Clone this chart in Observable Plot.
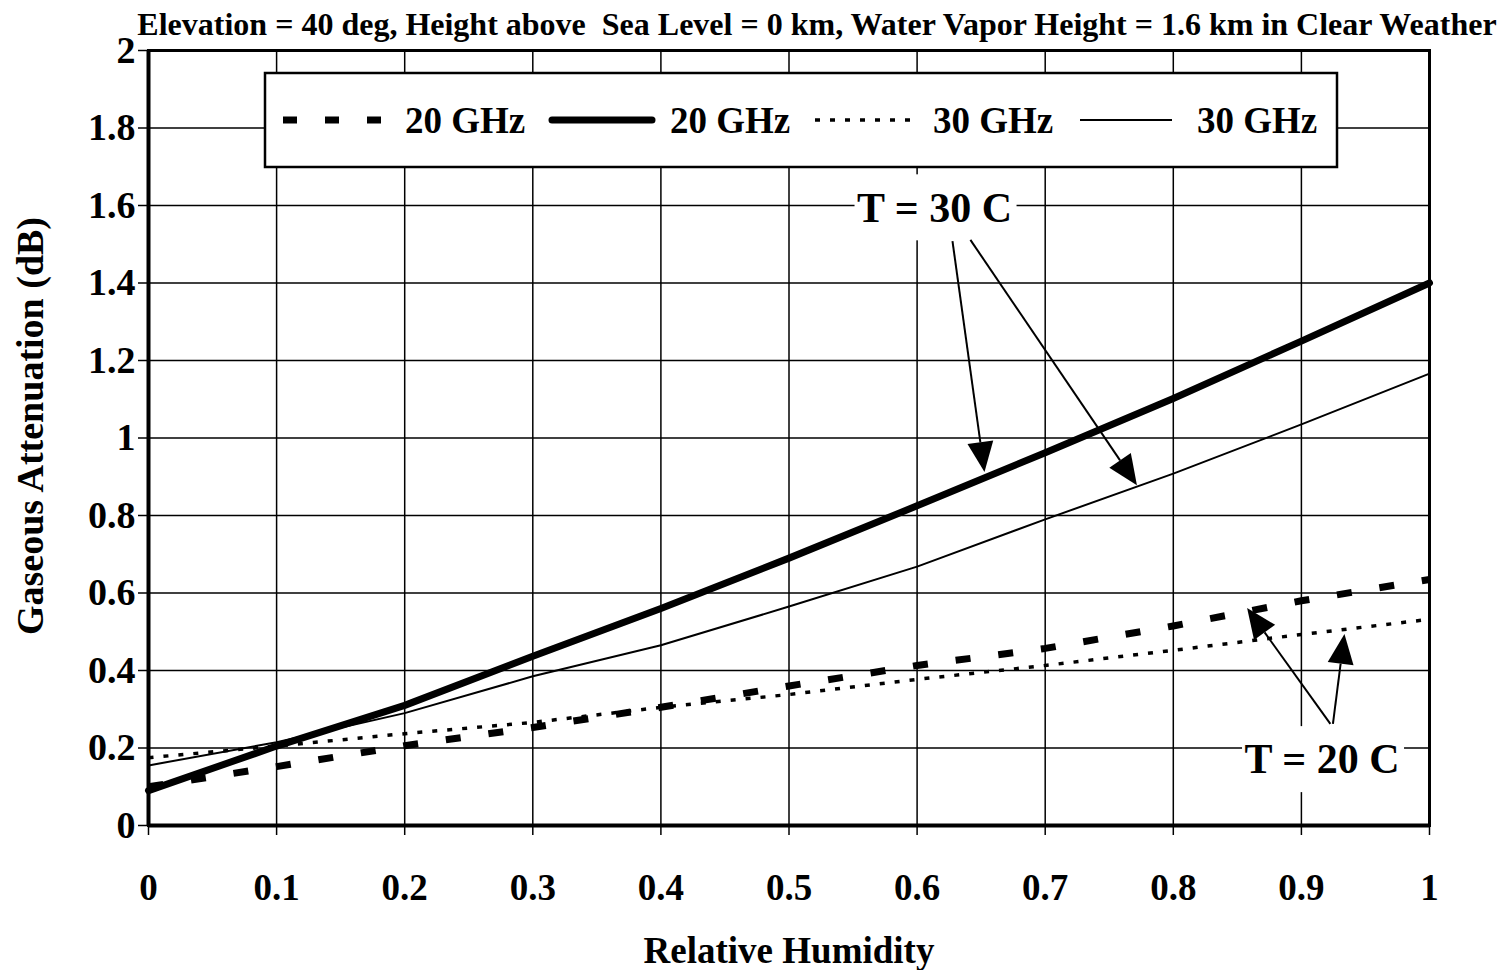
<!DOCTYPE html>
<html><head><meta charset="utf-8">
<script src="https://cdn.jsdelivr.net/npm/d3@7"></script>
<script src="https://cdn.jsdelivr.net/npm/@observablehq/plot@0.6"></script>
<style>
body{margin:0;background:#fff}
#chart{width:1511px;height:970px}
</style>
</head><body><div id="chart"></div>
<script>
// ---------- data ----------
const humidity = [0, 0.1, 0.2, 0.3, 0.4, 0.5, 0.6, 0.7, 0.8, 0.9, 1.0];
const att20GHz_T20 = [0.100, 0.152, 0.206, 0.253, 0.305, 0.360, 0.413, 0.457, 0.515, 0.580, 0.635];
const att20GHz_T30 = [0.090, 0.205, 0.310, 0.437, 0.560, 0.690, 0.825, 0.962, 1.102, 1.250, 1.400];
const att30GHz_T20 = [0.175, 0.205, 0.237, 0.266, 0.305, 0.338, 0.377, 0.413, 0.452, 0.493, 0.532];
const att30GHz_T30 = [0.155, 0.215, 0.290, 0.385, 0.465, 0.565, 0.668, 0.790, 0.908, 1.035, 1.166];
const seriesLabels = ["20 GHz", "20 GHz", "30 GHz", "30 GHz"];
const xTicks = [0, 0.1, 0.2, 0.3, 0.4, 0.5, 0.6, 0.7, 0.8, 0.9, 1];
const yTicks = [0, 0.2, 0.4, 0.6, 0.8, 1, 1.2, 1.4, 1.6, 1.8, 2];
const titleText = "Elevation = 40 deg, Height above  Sea Level = 0 km, Water Vapor Height = 1.6 km in Clear Weather";
const xLabel = "Relative Humidity";
const yLabel = "Gaseous Attenuation (dB)";
const noteLabels = ["T = 30 C", "T = 20 C"];
const noteX = [0.614, 0.9165];
const noteY = [1.594, 0.170];
const arrowX1 = [0.628, 0.642, 0.923, 0.925];
const arrowY1 = [1.507, 1.510, 0.261, 0.261];
const arrowX2 = [0.653, 0.772, 0.858, 0.934];
const arrowY2 = [0.911, 0.877, 0.560, 0.493];

// ---------- styles ----------
const FONT = "Liberation Serif, Times New Roman, serif";
const seriesValues = [att20GHz_T20, att20GHz_T30, att30GHz_T20, att30GHz_T30];
const seriesStyles = [
  {strokeWidth: 7, strokeDasharray: "15,28", strokeLinecap: "butt"},
  {strokeWidth: 7, strokeLinecap: "round"},
  {strokeWidth: 3.5, strokeDasharray: "5,10", strokeLinecap: "butt"},
  {strokeWidth: 2, strokeLinecap: "butt"}
];
const legendLayout = [
  {x1: 283, x2: 385, tx: 405, dash: "14,28"},
  {x1: 552, x2: 652, tx: 670},
  {x1: 815, x2: 912, tx: 933, dash: "5,10"},
  {x1: 1080, x2: 1172, tx: 1197}
];

const rows = seriesValues.map((vals, s) => humidity.map((h, i) => ({h, v: vals[i], s})));

function labelBoxes(index, scales) {
  const g = d3.create("svg:g");
  noteLabels.forEach((t, i) => {
    const cx = scales.x(noteX[i]), cy = scales.y(noteY[i]);
    g.append("rect").attr("x", cx - 80).attr("y", cy - 33).attr("width", 162).attr("height", 66)
      .attr("fill", "white");
  });
  return g.node();
}
function labelTexts(index, scales) {
  const g = d3.create("svg:g");
  noteLabels.forEach((t, i) => {
    const cx = scales.x(noteX[i]), cy = scales.y(noteY[i]);
    g.append("text").attr("x", cx).attr("y", cy).attr("dy", "0.34em")
      .attr("text-anchor", "middle").attr("font-family", FONT).attr("font-weight", "bold")
      .attr("font-size", 42).attr("fill", "black").text(t);
  });
  return g.node();
}
function arrows(index, scales) {
  const g = d3.create("svg:g");
  arrowX1.forEach((_, i) => {
    const x1 = scales.x(arrowX1[i]), y1 = scales.y(arrowY1[i]);
    const x2 = scales.x(arrowX2[i]), y2 = scales.y(arrowY2[i]);
    const a = Math.atan2(y2 - y1, x2 - x1);
    const L = 30, W = 13;
    const bx = x2 - L * Math.cos(a), by = y2 - L * Math.sin(a);
    g.append("line").attr("x1", x1).attr("y1", y1).attr("x2", bx).attr("y2", by)
      .attr("stroke", "black").attr("stroke-width", 2);
    const px = -Math.sin(a), py = Math.cos(a);
    g.append("path").attr("d",
      `M${x2},${y2}L${bx + W * px},${by + W * py}L${bx - W * px},${by - W * py}Z`)
      .attr("fill", "black");
  });
  return g.node();
}
function legend() {
  const g = d3.create("svg:g");
  g.append("rect").attr("x", 265).attr("y", 73).attr("width", 1072).attr("height", 94)
    .attr("fill", "white").attr("stroke", "black").attr("stroke-width", 2.5);
  legendLayout.forEach((l, i) => {
    const st = seriesStyles[i];
    g.append("line").attr("x1", l.x1).attr("x2", l.x2).attr("y1", 120).attr("y2", 120)
      .attr("stroke", "black").attr("stroke-width", st.strokeWidth)
      .attr("stroke-linecap", st.strokeLinecap)
      .attr("stroke-dasharray", l.dash || null);
    g.append("text").attr("x", l.tx).attr("y", 120).attr("dy", "0.34em")
      .attr("text-anchor", "start")
      .attr("font-family", FONT).attr("font-weight", "bold").attr("font-size", 37)
      .attr("fill", "black").text(seriesLabels[i]);
  });
  return g.node();
}

const chart = Plot.plot({
  width: 1511,
  height: 970,
  marginLeft: 148,
  marginRight: 82,
  marginTop: 50,
  marginBottom: 145,
  style: {fontFamily: FONT, fontWeight: "bold", background: "white", color: "black"},
  x: {domain: [0, 1]},
  y: {domain: [0, 2]},
  marks: [
    Plot.gridX(xTicks, {stroke: "black", strokeOpacity: 1, strokeWidth: 1.5}),
    Plot.gridY(yTicks, {stroke: "black", strokeOpacity: 1, strokeWidth: 1.5}),
    Plot.frame({stroke: "black", strokeWidth: 3}),
    Plot.ruleX([0], {stroke: "black", strokeWidth: 4}),
    Plot.ruleY([0], {stroke: "black", strokeWidth: 4}),
    Plot.axisX(xTicks, {tickSize: 10, tickPadding: 38, tickFormat: d => String(d), fontSize: 37, fontWeight: "bold", label: null, strokeWidth: 1.5}),
    Plot.axisY(yTicks, {tickSize: 10, tickPadding: 3, tickFormat: d => String(d), fontSize: 38, fontWeight: "bold", label: null, strokeWidth: 1.5}),
    labelBoxes,
    ...rows.map((r, s) => Plot.line(r, {x: "h", y: "v", stroke: "black", ...seriesStyles[s]})),
    arrows,
    labelTexts,
    legend,
    Plot.text([titleText], {frameAnchor: "top", dx: 28, dy: -38, fontSize: 32, fontWeight: "bold", fill: "black"}),
    Plot.text([xLabel], {frameAnchor: "bottom", dy: 137, fontSize: 37, fontWeight: "bold", fill: "black"}),
    Plot.text([yLabel], {frameAnchor: "left", textAnchor: "middle", rotate: -90, dx: -118, dy: -12, fontSize: 38, fontWeight: "bold", fill: "black"})
  ]
});
document.getElementById("chart").appendChild(chart);
</script>
</body></html>
